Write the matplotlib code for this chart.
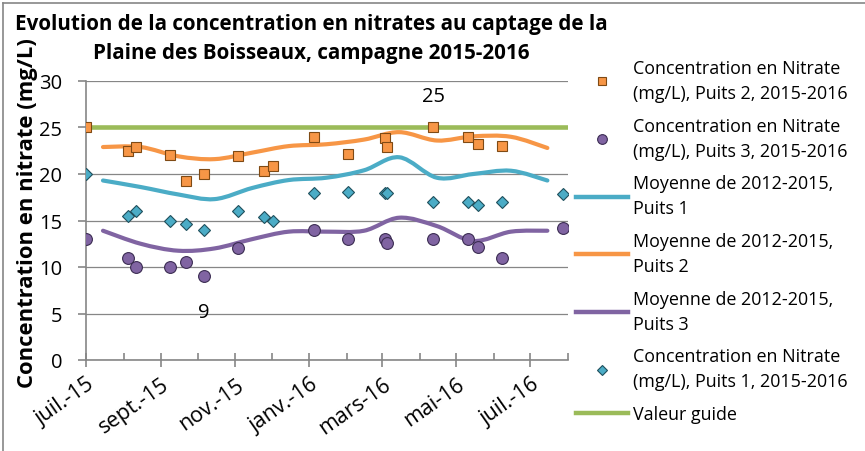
import matplotlib
matplotlib.use("Agg")
import matplotlib.pyplot as plt
import matplotlib.dates as mdates
from matplotlib.path import Path
from matplotlib.patches import PathPatch
from matplotlib.lines import Line2D
import numpy as np
import pandas as pd

plt.rcParams['font.family'] = ['Open Sans', 'DejaVu Sans']

# Prélèvements 2015-2016
dates_p1 = ['2015-07-01', '2015-08-05', '2015-08-11', '2015-09-08', '2015-09-21', '2015-10-06',
            '2015-11-03', '2015-11-25', '2015-12-02', '2016-01-05', '2016-02-02', '2016-03-03',
            '2016-03-05', '2016-04-12', '2016-05-11', '2016-05-19', '2016-06-08', '2016-07-28']
puits1 = [20, 15.5, 16, 15, 14.6, 14, 16, 15.4, 15, 18, 18.1, 18, 18, 17, 17, 16.7, 17, 17.8]

dates_p2 = ['2015-07-01', '2015-08-05', '2015-08-11', '2015-09-08', '2015-09-21', '2015-10-06',
            '2015-11-03', '2015-11-25', '2015-12-02', '2016-01-05', '2016-02-02', '2016-03-03',
            '2016-03-05', '2016-04-12', '2016-05-11', '2016-05-19', '2016-06-08']
puits2 = [25, 22.5, 22.9, 22, 19.2, 20, 21.9, 20.3, 20.9, 24, 22.2, 23.9, 22.9, 25, 24, 23.2, 23]

dates_p3 = ['2015-07-01', '2015-08-05', '2015-08-11', '2015-09-08', '2015-09-21', '2015-10-06',
            '2015-11-03', '2016-01-05', '2016-02-02', '2016-03-03', '2016-03-05', '2016-04-12',
            '2016-05-11', '2016-05-19', '2016-06-08', '2016-07-28']
puits3 = [13, 11, 10, 10, 10.5, 9, 12, 14, 13, 13, 12.6, 13, 13, 12.2, 11, 14.2]

# Moyennes mensuelles 2012-2015
dates_moy = ['2015-07-15', '2015-08-15', '2015-09-15', '2015-10-15', '2015-11-15', '2015-12-15',
             '2016-01-15', '2016-02-15', '2016-03-15', '2016-04-15', '2016-05-15', '2016-06-15',
             '2016-07-15']
moy_p1 = [19.3, 18.6, 17.8, 17.3, 18.5, 19.35, 19.6, 20.4, 21.8, 19.6, 20.0, 20.35, 19.3]
moy_p2 = [22.9, 22.9, 21.9, 21.6, 22.3, 23.0, 23.2, 23.7, 24.5, 23.6, 24.05, 24.0, 22.8]
moy_p3 = [13.9, 12.5, 11.75, 12.0, 13.0, 13.8, 13.8, 13.9, 15.3, 14.4, 12.8, 13.8, 13.9]

valeur_guide = 25

c_bleu = '#4BACC6'
c_orange = '#F79646'
c_violet = '#8064A2'
c_vert = '#9BBB59'
c_gris = '#868686'


def to_num(d):
    return mdates.date2num(pd.to_datetime(d))


def courbe_lissee(ax, dates, vals, color):
    # lissage type Excel (Catmull-Rom -> Bezier)
    x = to_num(dates)
    y = np.array(vals, dtype=float)
    pts = np.column_stack([x, y])
    verts = [pts[0]]
    codes = [Path.MOVETO]
    n = len(pts)
    for i in range(n - 1):
        p0 = pts[i - 1] if i > 0 else pts[i]
        p1 = pts[i]
        p2 = pts[i + 1]
        p3 = pts[i + 2] if i + 2 < n else pts[i + 1]
        c1 = p1 + (p2 - p0) / 6
        c2 = p2 - (p3 - p1) / 6
        verts += [c1, c2, p2]
        codes += [Path.CURVE4] * 3
    patch = PathPatch(Path(verts, codes), facecolor='none', edgecolor=color,
                      lw=3, capstyle='round', zorder=3)
    ax.add_patch(patch)


fig = plt.figure(figsize=(8.65, 4.52), dpi=100)
ax = fig.add_axes([86 / 865, 1 - 361 / 452, (568 - 86) / 865, (361 - 82) / 452])

ax.plot([to_num('2015-07-01'), to_num('2016-08-01')], [valeur_guide, valeur_guide],
        color=c_vert, lw=3.3, zorder=2, solid_capstyle='butt')
courbe_lissee(ax, dates_moy, moy_p1, c_bleu)
courbe_lissee(ax, dates_moy, moy_p2, c_orange)
courbe_lissee(ax, dates_moy, moy_p3, c_violet)

ax.plot(to_num(dates_p2), puits2, ls='none', marker='s', ms=7, mfc=c_orange,
        mec='#7f4a14', mew=0.8, zorder=5)
ax.plot(to_num(dates_p3), puits3, ls='none', marker='o', ms=8.5, mfc=c_violet,
        mec='#3b2c52', mew=0.8, zorder=5)
ax.plot(to_num(dates_p1), puits1, ls='none', marker='D', ms=6, mfc=c_bleu,
        mec='#1f4f5c', mew=0.8, zorder=6)

# étiquettes de données
ax.annotate('25', (to_num('2016-04-12'), 25), xytext=(0, 23), textcoords='offset points',
            ha='center', va='center', fontsize=14.5)
ax.annotate('9', (to_num('2015-10-06'), 9), xytext=(0, -25.5), textcoords='offset points',
            ha='center', va='center', fontsize=14.5)

ax.set_xlim(to_num('2015-07-01'), to_num('2016-08-01'))
ax.set_ylim(0, 30)
ax.set_yticks(range(0, 31, 5))
ax.yaxis.grid(True, color=c_gris, lw=0.9)
ax.set_axisbelow(True)

ax.xaxis.set_major_locator(mdates.MonthLocator(bymonth=[1, 3, 5, 7, 9, 11]))
ax.xaxis.set_minor_locator(mdates.MonthLocator())
mois = {1: 'janv.', 3: 'mars', 5: 'mai', 7: 'juil.', 9: 'sept.', 11: 'nov.'}
ax.xaxis.set_major_formatter(plt.FuncFormatter(
    lambda v, p: f"{mois[mdates.num2date(v).month]}-{mdates.num2date(v).year % 100}"))

for s in ['top', 'right']:
    ax.spines[s].set_visible(False)
for s in ['left', 'bottom']:
    ax.spines[s].set_color(c_gris)
    ax.spines[s].set_linewidth(1.2)

ax.tick_params(axis='y', direction='out', length=6, color=c_gris, width=1.2,
               labelsize=14.5, pad=11)
ax.tick_params(axis='x', which='major', direction='inout', length=10, color=c_gris,
               width=1.2, labelsize=15.5, pad=5)
ax.tick_params(axis='x', which='minor', direction='in', length=5, color=c_gris, width=1.2)
for lab in ax.get_xticklabels():
    lab.set_rotation(35)
    lab.set_ha('right')
    lab.set_rotation_mode('anchor')

ax.set_ylabel('Concentration en nitrate (mg/L)', fontsize=15.8, fontweight='bold')
ax.yaxis.set_label_coords((38 - 86) / 482, (361 - 213) / 279)

fig.text(311 / 865, 1 - 39 / 452,
         'Evolution de la concentration en nitrates au captage de la\n'
         'Plaine des Boisseaux, campagne 2015-2016',
         ha='center', va='center', fontsize=14.9, fontweight='bold', linespacing=1.5)

handles = [
    Line2D([], [], ls='none', marker='s', ms=5.5, mfc=c_orange, mec='#7f4a14', mew=0.8),
    Line2D([], [], ls='none', marker='o', ms=7, mfc=c_violet, mec='#3b2c52', mew=0.8),
    Line2D([], [], color=c_bleu, lw=3.2),
    Line2D([], [], color=c_orange, lw=3.2),
    Line2D([], [], color=c_violet, lw=3.2),
    Line2D([], [], ls='none', marker='D', ms=5, mfc=c_bleu, mec='#1f4f5c', mew=0.8),
    Line2D([], [], color=c_vert, lw=3.2),
]
labels = [
    'Concentration en Nitrate\n(mg/L), Puits 2, 2015-2016',
    'Concentration en Nitrate\n(mg/L), Puits 3, 2015-2016',
    'Moyenne de 2012-2015,\nPuits 1',
    'Moyenne de 2012-2015,\nPuits 2',
    'Moyenne de 2012-2015,\nPuits 3',
    'Concentration en Nitrate\n(mg/L), Puits 1, 2015-2016',
    'Valeur guide',
]
leg = fig.legend(handles, labels, loc='upper left', bbox_to_anchor=(576 / 865, 1 - 60 / 452),
                 frameon=False, fontsize=12.9, handlelength=2.9, handletextpad=0.3,
                 labelspacing=0.82, borderpad=0, borderaxespad=0)
for t in leg.get_texts():
    t.set_linespacing(1.5)

# cadre du graphique
fig.add_artist(Line2D([3 / 865, 3 / 865], [0, 1 - 4 / 452], color=c_gris, lw=1.2))
fig.add_artist(Line2D([3 / 865, 1], [1 - 4 / 452, 1 - 4 / 452], color=c_gris, lw=1.2))

fig.savefig('out.png', dpi=100)
